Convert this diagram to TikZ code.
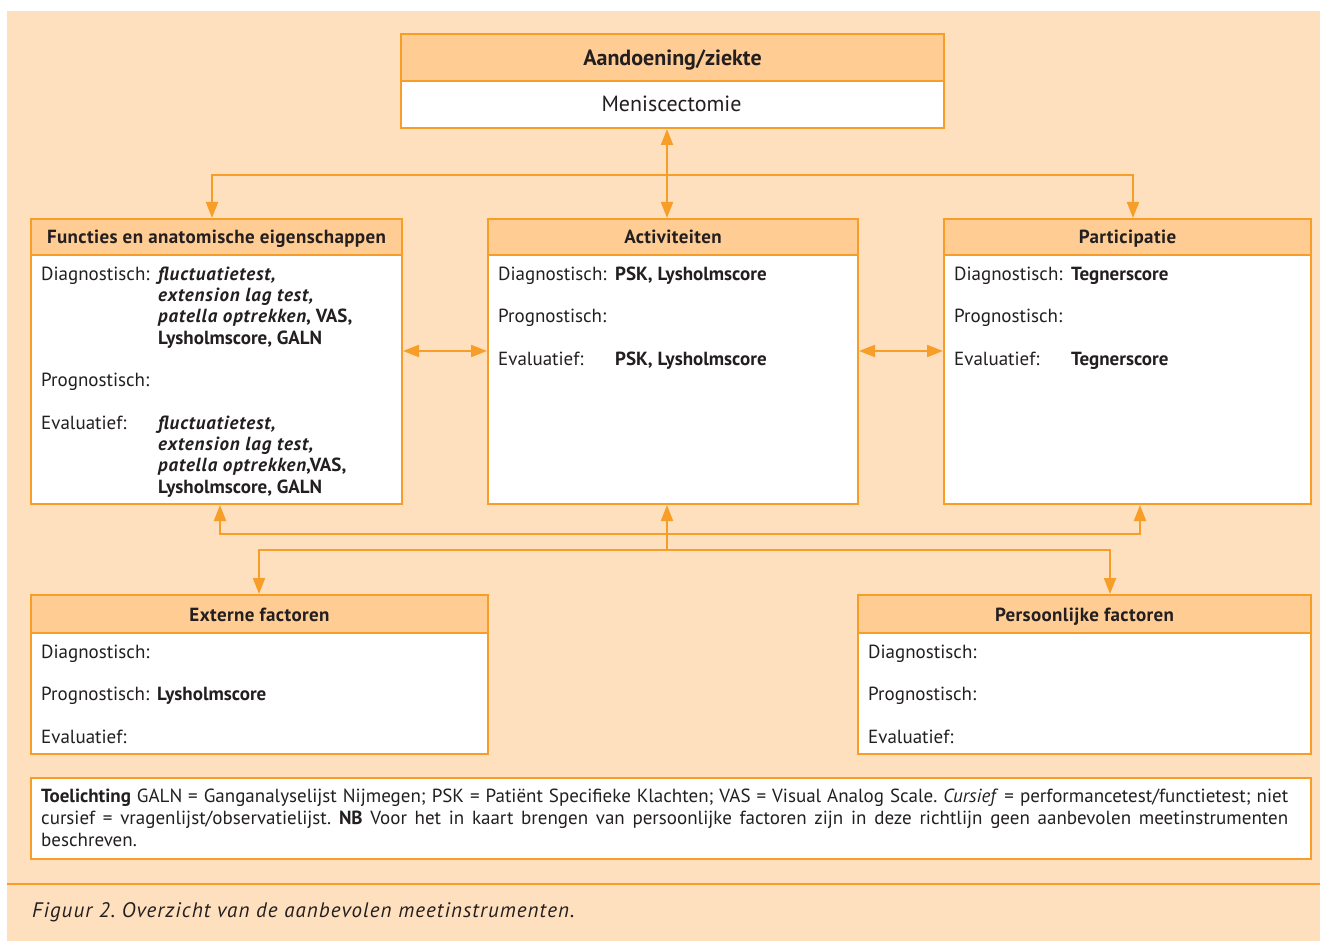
\documentclass[tikz,border=0pt]{standalone}
\usepackage{fontspec}
\setmainfont{PT Sans}
\usetikzlibrary{arrows.meta}
\definecolor{bgc}{RGB}{255,224,190}
\definecolor{hdc}{RGB}{255,204,148}
\definecolor{orc}{RGB}{246,158,40}
\definecolor{txc}{RGB}{35,31,32}
\tikzset{
  bodybox/.style={draw=orc, line width=2pt, fill=white, inner sep=0pt, anchor=north west},
  headbox/.style={draw=orc, line width=2pt, fill=hdc, inner sep=0pt, anchor=north west,
    text height=14pt, text depth=0pt, font=\fontsize{19}{21}\selectfont\bfseries\addfontfeature{LetterSpace=2}, text=txc},
  tx/.style={anchor=base west, inner sep=0pt, font=\fontsize{19}{21}\selectfont, text=txc},
  ln/.style={draw=orc, line width=2pt},
  arr/.style={draw=orc, line width=2pt, -{Triangle[length=16pt,width=12pt]}},
  dbl/.style={draw=orc, line width=2pt, {Triangle[length=16pt,width=12pt]}-{Triangle[length=16pt,width=12pt]}},
}
\newcommand{\bi}[1]{{\bfseries\itshape\addfontfeature{LetterSpace=4.5}#1}}
\frenchspacing
\begin{document}
\begin{tikzpicture}[x=1pt,y=-1pt]
\useasboundingbox (0,0) rectangle (1320,941);
\fill[white] (0,0) rectangle (1320,941);
\fill[bgc] (7,11) rectangle (1320,941);

% top box
\node[bodybox, minimum width=543pt, minimum height=94pt] (top) at (400,33) {};
\node[headbox, minimum width=543pt, minimum height=47pt, text height=16pt,
  font=\fontsize{22}{24}\selectfont\bfseries] (toph) at (400,33) {Aandoening/ziekte};
\node[tx, anchor=base, font=\fontsize{22}{24}\selectfont] (topt) at (671.5,112) {Meniscectomie};

% row boxes
\node[bodybox, minimum width=371pt, minimum height=285pt] (fun) at (30,218) {};
\node[headbox, minimum width=371pt, minimum height=36pt] (funh) at (30,218) {Functies en anatomische eigenschappen};
\node[bodybox, minimum width=370pt, minimum height=285pt] (act) at (487,218) {};
\node[headbox, minimum width=370pt, minimum height=36pt] (acth) at (487,218) {Activiteiten};
\node[bodybox, minimum width=367pt, minimum height=285pt] (par) at (943,218) {};
\node[headbox, minimum width=367pt, minimum height=36pt] (parh) at (943,218) {Participatie};

% bottom boxes
\node[bodybox, minimum width=457pt, minimum height=159pt] (ext) at (30,594) {};
\node[headbox, minimum width=457pt, minimum height=38pt] (exth) at (30,594) {Externe factoren};
\node[bodybox, minimum width=453pt, minimum height=159pt] (per) at (857,594) {};
\node[headbox, minimum width=453pt, minimum height=38pt] (perh) at (857,594) {Persoonlijke factoren};

% toelichting box
\node[bodybox, minimum width=1280pt, minimum height=81pt] (toel) at (30,777) {};

% functies text
\node[tx] (f1) at (41,280.5) {Diagnostisch:};
\node[tx] (f1a) at (158,280.5) {\bi{fluctuatietest,}};
\node[tx] (f1b) at (158,301.8) {\bi{extension lag test,}};
\node[tx] (f1c) at (158,323) {\bi{patella optrekken}\bfseries, VAS,};
\node[tx] (f1d) at (158,344.3) {\bfseries Lysholmscore, GALN};
\node[tx] (f2) at (41,386) {Prognostisch:};
\node[tx] (f3) at (41,429) {Evaluatief:};
\node[tx] (f3a) at (158,429) {\bi{fluctuatietest,}};
\node[tx] (f3b) at (158,450.3) {\bi{extension lag test,}};
\node[tx] (f3c) at (158,471.6) {\bi{patella optrekken}\bfseries,VAS,};
\node[tx] (f3d) at (158,493) {\bfseries Lysholmscore, GALN};

% activiteiten text
\node[tx] (a1) at (498,280.5) {Diagnostisch:};
\node[tx] (a1a) at (615,280.5) {\bfseries PSK, Lysholmscore};
\node[tx] (a2) at (498,322.5) {Prognostisch:};
\node[tx] (a3) at (498,365) {Evaluatief:};
\node[tx] (a3a) at (615,365) {\bfseries PSK, Lysholmscore};

% participatie text
\node[tx] (p1) at (954,280.5) {Diagnostisch:};
\node[tx] (p1a) at (1071,280.5) {\bfseries Tegnerscore};
\node[tx] (p2) at (954,322.5) {Prognostisch:};
\node[tx] (p3) at (954,365) {Evaluatief:};
\node[tx] (p3a) at (1071,365) {\bfseries Tegnerscore};

% externe text
\node[tx] (e1) at (41,658) {Diagnostisch:};
\node[tx] (e2) at (41,700.5) {Prognostisch:};
\node[tx] (e2a) at (157,700.5) {\bfseries Lysholmscore};
\node[tx] (e3) at (41,743) {Evaluatief:};

% persoonlijke text
\node[tx] (q1) at (868,658) {Diagnostisch:};
\node[tx] (q2) at (868,700.5) {Prognostisch:};
\node[tx] (q3) at (868,743) {Evaluatief:};

% toelichting text
\node[anchor=north west, inner sep=0pt, text width=1247pt, align=justify,
  font=\fontsize{19}{22}\selectfont\frenchspacing, text=txc] (toelt) at (41,789)
  {\textbf{Toelichting} GALN = Ganganalyselijst Nijmegen; PSK = Patiënt Specifieke Klachten; VAS = Visual Analog Scale. \textit{Cursief} = performancetest/functietest; niet\linebreak
  cursief = vragenlijst/observatielijst. \textbf{NB} Voor het in kaart brengen van persoonlijke factoren zijn in deze richtlijn geen aanbevolen meetinstrumenten\linebreak
  beschreven.};

% caption
\draw[draw=orc, line width=2.5pt] (7,884) -- (1320,884);
\node[tx, font=\fontsize{21}{23}\selectfont\itshape\addfontfeature{LetterSpace=5}] (cap) at (32,917) {Figuur 2. Overzicht van de aanbevolen meetinstrumenten.};

% connectors
\coordinate (c1) at (667,175);
\coordinate (tl) at (212,175);
\coordinate (tr) at (1133,175);
\draw[dbl] (top.south -| c1) -- (act.north -| c1);
\draw[dbl] (fun.north -| tl) |- (tr) -- (par.north -| tr);

\coordinate (m) at (0,351);
\draw[dbl] (fun.east |- m) -- (act.west |- m);
\draw[dbl] (act.east |- m) -- (par.west |- m);

\coordinate (bl) at (220,534);
\coordinate (br) at (1140,534);
\draw[dbl] (fun.south -| bl) |- (br) -- (par.south -| br);
\coordinate (c2) at (667,550);
\draw[arr] (c2) -- (act.south -| c2);
\coordinate (el) at (259,550);
\coordinate (er) at (1110,550);
\draw[dbl] (ext.north -| el) |- (er) -- (per.north -| er);
\end{tikzpicture}
\end{document}
